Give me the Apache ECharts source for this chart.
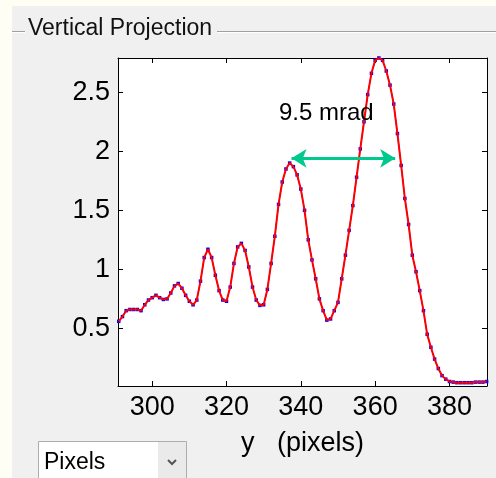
<!DOCTYPE html>
<html>
<head>
<meta charset="utf-8">
<script src="https://cdn.jsdelivr.net/npm/echarts@6/dist/echarts.min.js"></script>
<style>
  body { margin: 0; }
  #vertical-projection { width: 496px; height: 478px; }
</style>
</head>
<body>
<div id="vertical-projection"></div>
<script>
var pixelY = [
    291, 292, 293, 294, 295, 296, 297, 298, 299, 300,
    301, 302, 303, 304, 305, 306, 307, 308, 309, 310,
    311, 312, 313, 314, 315, 316, 317, 318, 319, 320,
    321, 322, 323, 324, 325, 326, 327, 328, 329, 330,
    331, 332, 333, 334, 335, 336, 337, 338, 339, 340,
    341, 342, 343, 344, 345, 346, 347, 348, 349, 350,
    351, 352, 353, 354, 355, 356, 357, 358, 359, 360,
    361, 362, 363, 364, 365, 366, 367, 368, 369, 370,
    371, 372, 373, 374, 375, 376, 377, 378, 379, 380,
    381, 382, 383, 384, 385, 386, 387, 388, 389, 390
];
var projection = [
    0.56, 0.60, 0.65, 0.66, 0.66, 0.66, 0.65, 0.70, 0.74, 0.76,
    0.78, 0.76, 0.745, 0.75, 0.80, 0.86, 0.88, 0.84, 0.78, 0.73,
    0.70, 0.74, 0.90, 1.10, 1.17, 1.10, 0.95, 0.82, 0.74, 0.73,
    0.85, 1.05, 1.19, 1.22, 1.16, 1.02, 0.85, 0.74, 0.695, 0.70,
    0.83, 1.05, 1.28, 1.55, 1.74, 1.85, 1.90, 1.87, 1.80, 1.68,
    1.50, 1.25, 1.08, 0.92, 0.75, 0.65, 0.57, 0.58, 0.65, 0.72,
    0.92, 1.12, 1.33, 1.54, 1.78, 2.02, 2.25, 2.48, 2.66, 2.77,
    2.79, 2.77, 2.68, 2.56, 2.40, 2.15, 1.88, 1.60, 1.38, 1.12,
    0.98, 0.82, 0.65, 0.45, 0.34, 0.24, 0.16, 0.10, 0.07, 0.05,
    0.045, 0.04, 0.04, 0.04, 0.04, 0.04, 0.045, 0.045, 0.045, 0.05
];
var xTicks = [300, 320, 340, 360, 380];
var yTicks = [0.5, 1, 1.5, 2, 2.5];
// peak-to-peak width marker
var widthMarker = [[337.5, 1.94], [365.4, 1.94]];
var widthLabel = "9.5 mrad";

var font = "Liberation Sans, Arial, sans-serif";

function toPoints(xs, ys) {
    var pts = [];
    for (var i = 0; i < xs.length; i++) {
        pts.push([xs[i], ys[i]]);
    }
    return pts;
}

function xAxisOpt(pos, showLabel) {
    return {
        type: "value", position: pos, min: 290.8, max: 390.1,
        axisLine: { show: true, onZero: false, lineStyle: { color: "#000", width: 1 } },
        axisTick: { show: true, inside: true, length: 5, customValues: xTicks, lineStyle: { color: "#000" } },
        axisLabel: { show: showLabel, customValues: xTicks, color: "#000", fontSize: 27, fontFamily: font, margin: 8 },
        splitLine: { show: false },
        name: showLabel ? "y   (pixels)" : "",
        nameLocation: "middle", nameGap: 44,
        nameTextStyle: { color: "#000", fontSize: 27, fontFamily: font }
    };
}

function yAxisOpt(pos, showLabel) {
    return {
        type: "value", position: pos, min: 0.012, max: 2.79,
        axisLine: { show: true, onZero: false, lineStyle: { color: "#000", width: 1 } },
        axisTick: { show: true, inside: true, length: 5, customValues: yTicks, lineStyle: { color: "#000" } },
        axisLabel: { show: showLabel, customValues: yTicks, color: "#000", fontSize: 27, fontFamily: font, margin: 8 },
        splitLine: { show: false }
    };
}

var points = toPoints(pixelY, projection);

var option = {
    animation: false,
    backgroundColor: "#f0f0f0",
    grid: { left: 118, top: 58, width: 369, height: 328, show: true, backgroundColor: "#fff", borderWidth: 0 },
    xAxis: [xAxisOpt("bottom", true), xAxisOpt("top", false)],
    yAxis: [yAxisOpt("left", true), yAxisOpt("right", false)],
    series: [
        {
            type: "line", data: points, showSymbol: true, showAllSymbol: true,
            symbol: "rect", symbolSize: 3.5,
            itemStyle: { color: "#0000ff" },
            lineStyle: { width: 1, color: "#0000ff" },
            z: 2
        },
        {
            type: "line", data: points, showSymbol: false,
            lineStyle: { width: 2, color: "#ff0000" },
            z: 3,
            markLine: {
                silent: true,
                symbol: ["arrow", "arrow"], symbolSize: [14, 15],
                label: { show: false },
                lineStyle: { color: "#00c98d", width: 3, type: "solid" },
                data: [[{ coord: widthMarker[0] }, { coord: widthMarker[1] }]]
            }
        }
    ],
    graphic: [
        // cream window edge
        { type: "rect", left: 0, top: 0, shape: { width: 12, height: 478 }, style: { fill: "#fffef5" }, silent: true },
        { type: "rect", left: 0, top: 0, shape: { width: 496, height: 6 }, style: { fill: "#fffef5" }, silent: true },
        // group box line
        { type: "line", shape: { x1: 12, y1: 31.5, x2: 25, y2: 31.5 }, style: { stroke: "#a0a0a0", lineWidth: 1 } },
        { type: "line", shape: { x1: 217, y1: 31.5, x2: 496, y2: 31.5 }, style: { stroke: "#a0a0a0", lineWidth: 1 } },
        { type: "line", shape: { x1: 12, y1: 32.5, x2: 25, y2: 32.5 }, style: { stroke: "#ffffff", lineWidth: 1 } },
        { type: "line", shape: { x1: 217, y1: 32.5, x2: 496, y2: 32.5 }, style: { stroke: "#ffffff", lineWidth: 1 } },
        { type: "text", x: 28, y: 29, style: { text: "Vertical Projection", fill: "#111", font: "23px " + font, textVerticalAlign: "middle" } },
        // annotation
        { type: "text", x: 279, y: 113, z: 10, style: { text: widthLabel, fill: "#000", font: "24px " + font, textVerticalAlign: "middle" } },
        // units dropdown
        { type: "rect", shape: { x: 38.5, y: 441.5, width: 148, height: 45 }, style: { fill: "#fff", stroke: "#abadb3", lineWidth: 1 } },
        { type: "rect", shape: { x: 158, y: 442, width: 28, height: 40 }, style: { fill: "#eaeaea" } },
        { type: "polyline", shape: { points: [[168, 460], [172, 464], [176, 460]] }, style: { stroke: "#555", lineWidth: 2, fill: null } },
        { type: "text", x: 44, y: 463, style: { text: "Pixels", fill: "#000", font: "23px " + font, textVerticalAlign: "middle" } }
    ]
};

var chart = echarts.init(document.getElementById("vertical-projection"));
chart.setOption(option);
</script>
</body>
</html>
